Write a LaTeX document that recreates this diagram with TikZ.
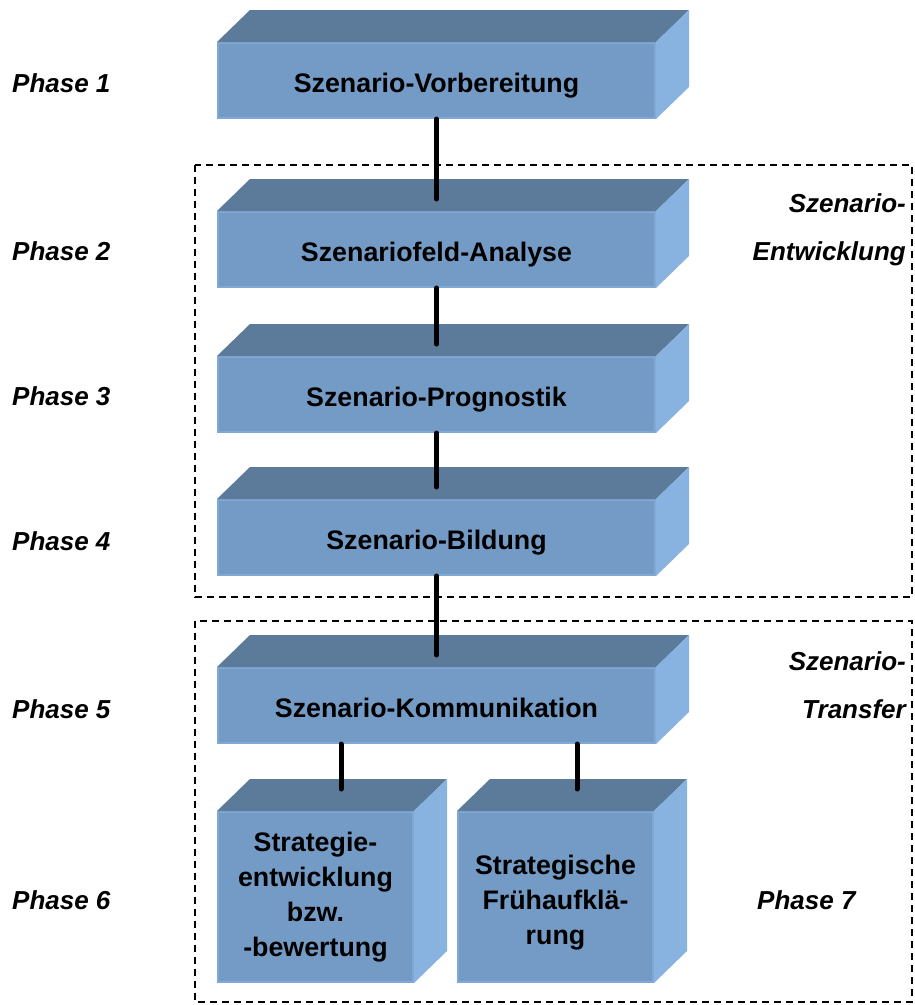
\documentclass[tikz,border=0pt]{standalone}
\usepackage{fontspec}
\setmainfont{Liberation Sans}
\usetikzlibrary{calc}
\definecolor{frontc}{RGB}{116,155,198}
\definecolor{frontedge}{RGB}{128,168,212}
\definecolor{topc}{RGB}{92,122,153}
\definecolor{sidec}{RGB}{136,178,224}
\tikzset{
  front/.style={rectangle, fill=frontc, draw=frontedge, line width=2pt, inner sep=0pt,
    align=center, font=\fontsize{26.8}{35}\selectfont\bfseries},
  wide/.style={front, minimum width=437pt, minimum height=75pt, text height=25pt, text depth=1.5pt},
  narrow/.style={front, minimum width=195pt, minimum height=170pt},
  phase/.style={anchor=west, inner sep=0pt, font=\fontsize{26}{30}\selectfont\bfseries\itshape},
  grp/.style={anchor=base east, inner sep=0pt, font=\fontsize{26}{30}\selectfont\bfseries\itshape},
  conn/.style={line width=5pt, line cap=round, black},
  frame/.style={draw=black, line width=1.3pt, dash pattern=on 7pt off 5pt}
}
% top and right faces of a cuboid whose front face is node #1
\newcommand\cubefaces[1]{%
  \fill[topc] (#1.north west) -- ++(33,-32) -- ($(#1.north east)+(33,-32)$) -- (#1.north east) -- cycle;
  \fill[sidec] (#1.north east) -- ++(33,-32) -- ($(#1.south east)+(33,-32)$) -- (#1.south east) -- cycle;
}
\begin{document}
\begin{tikzpicture}[x=1pt, y=-1pt]
\useasboundingbox (0,0) rectangle (915,1005);

% group frames
\draw[frame] (195,165) rectangle (912,597);
\draw[frame] (195,621) rectangle (912,1002);

% phase boxes
\node[wide] (b1) at (436.5,80.5) {Szenario-Vorbereitung};
\node[wide] (b2) at (436.5,249.5) {Szenariofeld-Analyse};
\node[wide] (b3) at (436.5,394.5) {Szenario-Prognostik};
\node[wide] (b4) at (436.5,537.5) {Szenario-Bildung};
\node[wide] (b5) at (436.5,705.5) {Szenario-Kommunikation};
\node[narrow] (b6) at (315.5,897) {Strategie-\\entwicklung\\bzw.\\-bewertung};
\node[narrow] (b7) at (555.5,897) {\rule{0pt}{31pt}Strategische\\Frühaufklä-\\rung};
\cubefaces{b1}
\cubefaces{b2}
\cubefaces{b3}
\cubefaces{b4}
\cubefaces{b5}
\cubefaces{b6}
\cubefaces{b7}

% connectors
\draw[conn] (b1.south) -- ($(b2.north)+(0,-12)$);
\draw[conn] (b2.south) -- ($(b3.north)+(0,-12)$);
\draw[conn] (b3.south) -- ($(b4.north)+(0,-12)$);
\draw[conn] (b4.south) -- ($(b5.north)+(0,-12)$);
\draw[conn] ($(b5.south west)+(124,0)$) -- ($(b6.north west)+(124,-22)$);
\draw[conn] ($(b5.south west)+(360,0)$) -- ($(b7.north west)+(120,-22)$);

% phase labels
\node[phase] (p1) at (12,83) {Phase 1};
\node[phase] (p2) at (12,251) {Phase 2};
\node[phase] (p3) at (12,396) {Phase 3};
\node[phase] (p4) at (12,541) {Phase 4};
\node[phase] (p5) at (12,709) {Phase 5};
\node[phase] (p6) at (12,900) {Phase 6};
\node[phase] (p7) at (757,900) {Phase 7};

% group labels
\node[grp] (g1a) at (906,212.5) {Szenario-};
\node[grp] (g1b) at (906,260.5) {Entwicklung};
\node[grp] (g2a) at (906,670.5) {Szenario-};
\node[grp] (g2b) at (906,718) {Transfer};
\end{tikzpicture}
\end{document}
